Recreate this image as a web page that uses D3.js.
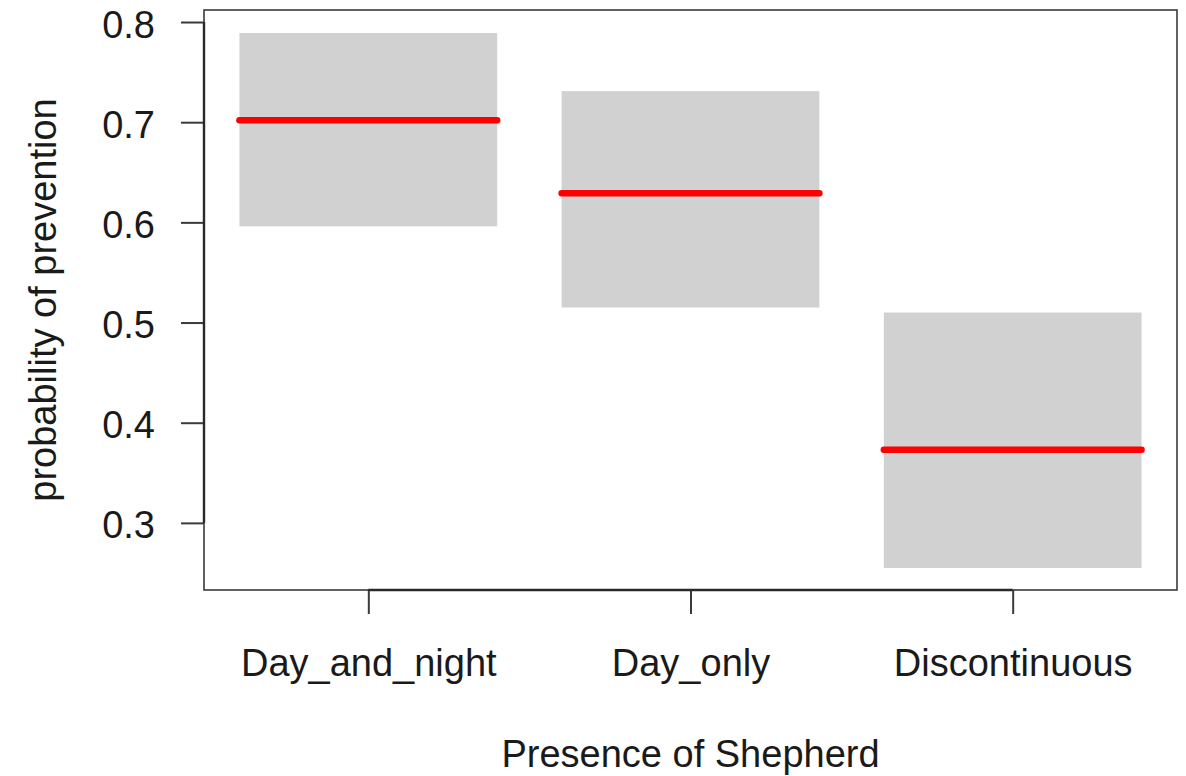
<!DOCTYPE html>
<html>
<head>
<meta charset="utf-8">
<script src="https://cdn.jsdelivr.net/npm/d3@7"></script>
<style>
  html, body { margin: 0; padding: 0; background: #ffffff; }
  svg { display: block; }
  text { font-family: "Liberation Sans", Arial, Helvetica, sans-serif; fill: #1a1a1a; }
</style>
</head>
<body>
<svg id="chart" width="1186" height="776"></svg>
<script>
// Effect estimates for each shepherd presence level
const categories = ["Day_and_night", "Day_only", "Discontinuous"];
const fitValues  = [0.702, 0.629, 0.373];
const lowerCI    = [0.596, 0.515, 0.255];
const upperCI    = [0.789, 0.731, 0.510];
const yTicks     = [0.3, 0.4, 0.5, 0.6, 0.7, 0.8];
const xTitle = "Presence of Shepherd";
const yTitle = "probability of prevention";

const svg = d3.select("#chart");
const plot = { left: 204, right: 1177, top: 10, bottom: 590 };

// categories sit at positions 1..n on a numeric axis
const x = d3.scaleLinear().domain([0.49, 3.51]).range([plot.left, plot.right]);
const y = d3.scaleLinear().domain([0.233, 0.812]).range([plot.bottom, plot.top]);
const halfWidth = 0.4;

const rows = categories.map((c, i) => ({
  cat: c, pos: i + 1, fit: fitValues[i], lo: lowerCI[i], hi: upperCI[i]
}));

// confidence bands
svg.append("g").selectAll("rect")
  .data(rows).join("rect")
  .attr("x", d => x(d.pos - halfWidth))
  .attr("width", d => x(d.pos + halfWidth) - x(d.pos - halfWidth))
  .attr("y", d => y(d.hi))
  .attr("height", d => y(d.lo) - y(d.hi))
  .attr("fill", "#d1d1d1");

// fitted values
svg.append("g").selectAll("line")
  .data(rows).join("line")
  .attr("x1", d => x(d.pos - halfWidth))
  .attr("x2", d => x(d.pos + halfWidth))
  .attr("y1", d => y(d.fit))
  .attr("y2", d => y(d.fit))
  .attr("stroke", "#ff0000")
  .attr("stroke-width", 6.5)
  .attr("stroke-linecap", "round");

// plot frame
svg.append("rect")
  .attr("x", plot.left).attr("y", plot.top)
  .attr("width", plot.right - plot.left)
  .attr("height", plot.bottom - plot.top)
  .attr("fill", "none")
  .attr("stroke", "#3a3a3a")
  .attr("stroke-width", 1.6);

// left axis
const yAxis = svg.append("g")
  .attr("transform", `translate(${plot.left},0)`)
  .call(d3.axisLeft(y).tickValues(yTicks).tickSize(23).tickPadding(26)
        .tickFormat(d3.format(".1f")));
yAxis.select(".domain").remove();
yAxis.selectAll(".tick line").attr("stroke", "#3a3a3a").attr("stroke-width", 2);
yAxis.selectAll(".tick text")
  .attr("font-size", 38)
  .attr("dy", null)
  .attr("y", 15)
  .style("font-family", "'Liberation Sans', Arial, sans-serif")
  .attr("fill", "#1a1a1a");
yAxis.append("line")
  .attr("x1", 0).attr("x2", 0)
  .attr("y1", y(yTicks[0])).attr("y2", y(yTicks[yTicks.length - 1]))
  .attr("stroke", "#2a2a2a").attr("stroke-width", 2.4);

// bottom axis
const positions = rows.map(d => d.pos);
const xAxis = svg.append("g")
  .attr("transform", `translate(0,${plot.bottom})`)
  .call(d3.axisBottom(x).tickValues(positions).tickSize(24)
        .tickFormat(d => categories[d - 1]));
xAxis.select(".domain").remove();
xAxis.selectAll(".tick line").attr("stroke", "#3a3a3a").attr("stroke-width", 2);
xAxis.selectAll(".tick text")
  .attr("font-size", 38)
  .attr("dy", null)
  .attr("y", 86)
  .style("font-family", "'Liberation Sans', Arial, sans-serif")
  .attr("fill", "#1a1a1a");
xAxis.append("line")
  .attr("x1", x(positions[0])).attr("x2", x(positions[positions.length - 1]))
  .attr("y1", 0).attr("y2", 0)
  .attr("stroke", "#2a2a2a").attr("stroke-width", 2.4);

// axis titles
svg.append("text")
  .attr("x", (plot.left + plot.right) / 2)
  .attr("y", 767)
  .attr("text-anchor", "middle")
  .attr("font-size", 38)
  .text(xTitle);

svg.append("text")
  .attr("transform", `translate(56,${(plot.top + plot.bottom) / 2}) rotate(-90)`)
  .attr("text-anchor", "middle")
  .attr("font-size", 38)
  .text(yTitle);
</script>
</body>
</html>
